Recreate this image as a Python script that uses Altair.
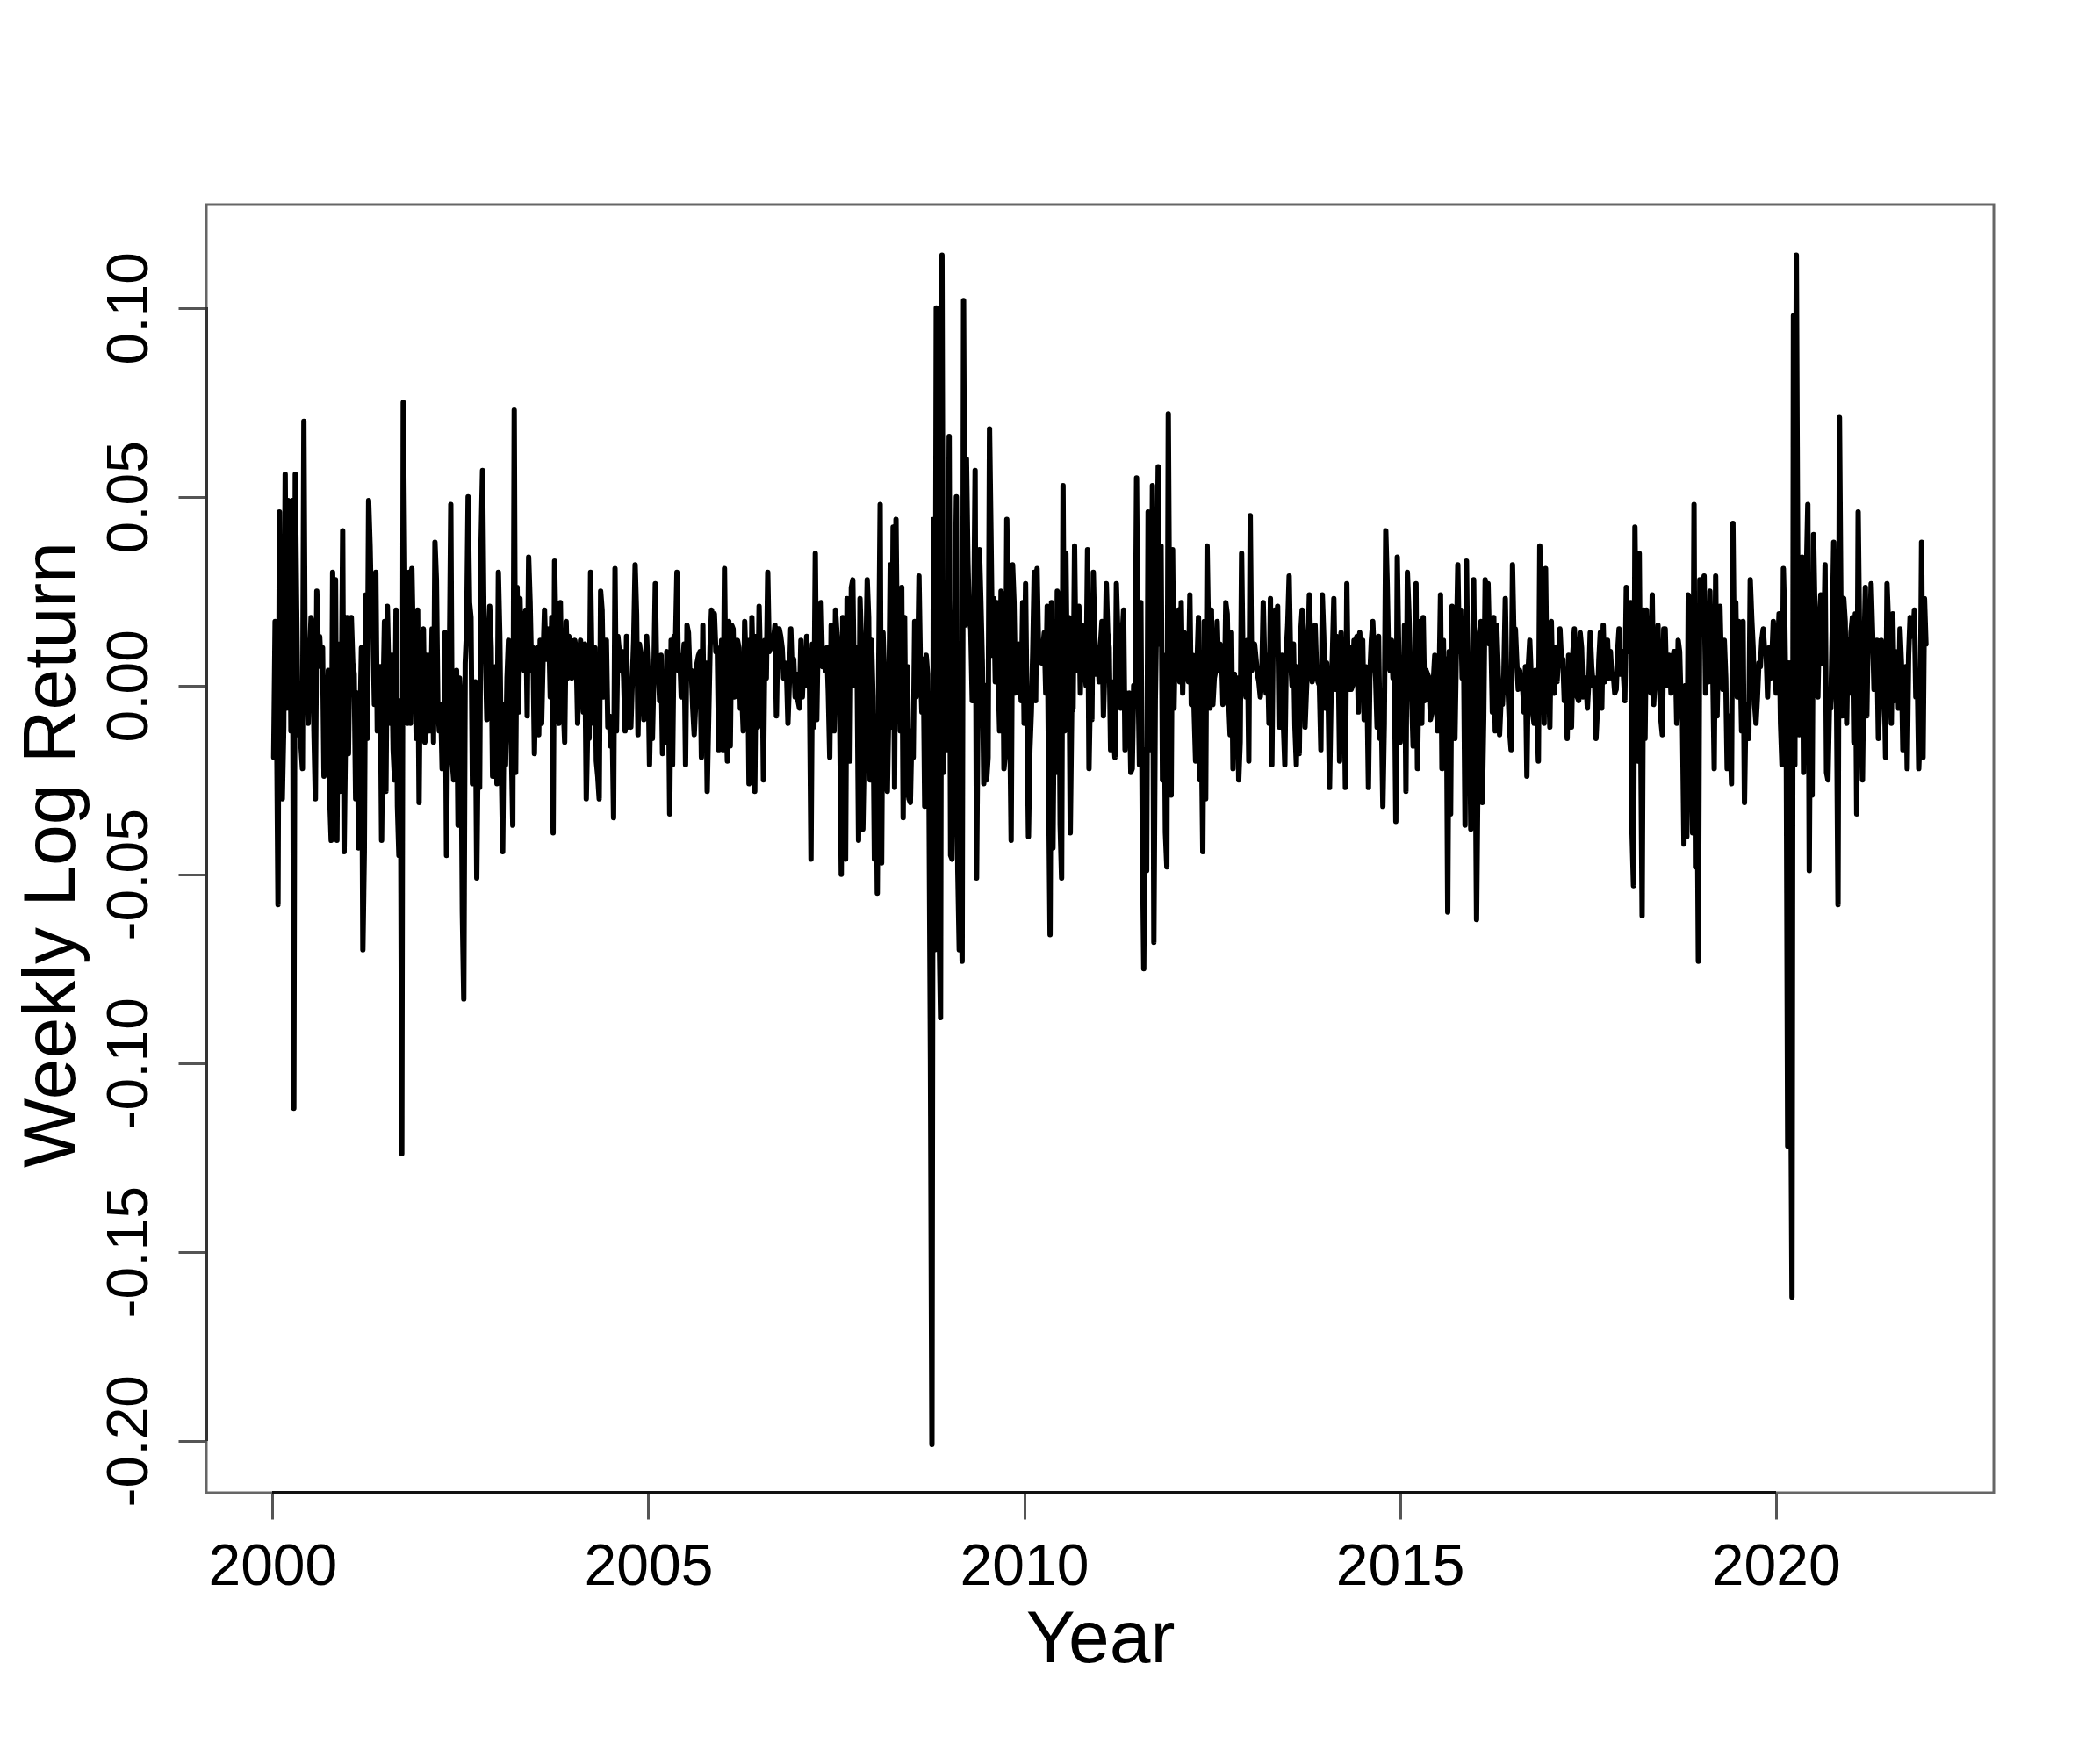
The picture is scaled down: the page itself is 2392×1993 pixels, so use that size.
import altair as alt
import pandas as pd

# Weekly log returns, one list per calendar year (weeks ending on Fridays)
r2000 = [-0.019, 0.017, -0.007, -0.058, 0.046, -0.021, -0.030, -0.011, 0.056, -0.006, 0.049, 0.038, -0.012, 0.049, -0.112, 0.056, 0.020, -0.013, -0.004, -0.016, -0.022, 0.070, -0.005, 0.004, -0.010, 0.008, 0.018, 0.016, -0.012, -0.030, 0.025, 0.010, 0.013, 0.005, 0.010, -0.024, -0.013, -0.009, 0.004, -0.030, -0.041, 0.030, 0.004, 0.028, -0.041, 0.011, -0.028, -0.009, 0.041, -0.044, -0.012, 0.018]
r2001 = [-0.018, 0.011, 0.018, 0.006, 0.003, -0.030, -0.002, -0.043, -0.012, 0.010, -0.070, -0.044, 0.024, -0.014, 0.049, 0.037, 0.018, 0.015, -0.005, 0.030, -0.012, -0.003, 0.005, -0.041, -0.004, 0.017, -0.028, 0.021, 0.002, -0.010, 0.008, -0.017, -0.025, 0.020, -0.032, -0.045, -0.004, -0.124, 0.075, 0.030, 0.021, -0.010, 0.030, -0.010, 0.031, 0.010, 0.010, -0.014, 0.020, -0.031, 0.014, 0.012]
r2002 = [0.015, -0.015, -0.012, 0.008, -0.012, -0.012, 0.015, -0.015, 0.038, 0.028, -0.005, -0.012, -0.005, -0.022, -0.018, 0.014, -0.045, 0.003, 0.005, 0.048, -0.020, -0.025, -0.020, 0.004, -0.037, 0.002, -0.005, -0.060, -0.083, 0.006, 0.015, 0.050, 0.022, 0.018, -0.026, -0.020, 0.001, -0.051, -0.014, -0.027, 0.038, 0.057, 0.017, 0.009, -0.009, 0.012, 0.021, 0.010, -0.024, -0.024, 0.005, -0.026]
r2003 = [0.030, 0.013, -0.020, -0.044, -0.005, -0.021, 0.002, 0.012, -0.003, -0.016, -0.037, 0.073, -0.023, 0.026, -0.007, 0.023, 0.007, 0.019, 0.004, 0.020, -0.008, 0.034, 0.022, 0.004, 0.010, -0.018, 0.004, 0.010, -0.013, 0.012, -0.010, 0.007, 0.020, 0.007, 0.012, 0.015, -0.003, 0.018, -0.039, 0.033, 0.010, -0.002, -0.010, 0.022, -0.002, -0.005, -0.015, 0.017, 0.002, 0.013, 0.012, 0.002]
r2004 = [0.004, 0.012, 0.009, -0.010, 0.005, 0.012, 0.003, -0.007, 0.011, -0.030, -0.011, -0.014, 0.030, 0.004, -0.010, 0.010, -0.020, -0.024, -0.030, 0.025, 0.020, -0.003, 0.004, 0.012, -0.011, -0.008, -0.016, -0.009, -0.035, 0.031, -0.012, 0.013, 0.009, 0.004, 0.009, 0.002, -0.012, 0.013, -0.011, -0.010, -0.011, 0.001, 0.012, 0.032, 0.019, -0.013, 0.011, 0.008, 0.002, -0.009, 0.006, 0.013, 0.004]
r2005 = [-0.021, 0.000, -0.014, 0.003, 0.027, 0.003, 0.005, -0.004, 0.008, -0.018, -0.009, -0.015, 0.009, 0.007, -0.034, 0.012, -0.021, 0.013, 0.011, 0.030, 0.004, 0.008, -0.003, 0.005, 0.011, -0.021, 0.016, 0.014, 0.003, 0.004, -0.006, -0.013, -0.005, 0.006, 0.008, 0.009, -0.019, 0.016, -0.017, 0.006, -0.028, -0.009, 0.010, 0.020, 0.018, 0.019, 0.009, 0.010, -0.017, -0.008, 0.012, -0.017]
r2006 = [0.031, -0.003, -0.020, 0.017, -0.016, 0.016, 0.015, -0.003, 0.000, 0.012, 0.010, -0.006, -0.002, -0.012, 0.017, 0.005, 0.012, -0.026, -0.019, 0.018, 0.002, -0.028, 0.013, -0.011, 0.021, 0.004, 0.010, -0.025, 0.012, 0.002, 0.030, 0.009, 0.010, 0.010, 0.012, 0.016, -0.008, 0.015, 0.015, 0.013, 0.010, 0.002, 0.006, 0.004, -0.010, 0.001, 0.015, 0.003, 0.007, -0.003, 0.003, -0.004]
r2007 = [-0.006, 0.012, -0.003, 0.007, 0.000, 0.013, 0.003, -0.001, -0.046, 0.011, -0.011, 0.035, -0.009, 0.015, 0.020, 0.022, 0.005, 0.006, 0.004, 0.010, -0.002, -0.019, 0.016, -0.006, -0.012, 0.020, 0.014, 0.010, -0.012, -0.050, 0.018, 0.014, -0.046, 0.023, 0.005, -0.020, 0.026, 0.028, 0.000, 0.010, 0.004, -0.041, 0.023, 0.011, -0.038, -0.016, 0.004, 0.028, 0.018, -0.025, 0.012, -0.003]
r2008 = [-0.046, -0.008, -0.055, 0.005, 0.048, -0.047, 0.014, 0.002, -0.017, -0.028, -0.006, 0.032, -0.011, 0.042, -0.027, 0.044, 0.005, 0.012, -0.012, 0.026, -0.035, 0.018, -0.029, 0.005, -0.030, -0.031, -0.012, -0.019, 0.017, -0.003, 0.002, 0.029, 0.005, -0.007, 0.007, -0.032, 0.008, 0.003, -0.030, -0.099, -0.201, 0.044, -0.070, 0.100, -0.040, -0.064, -0.088, 0.114, -0.023, 0.004, 0.009, -0.017]
r2009 = [0.066, -0.045, -0.046, -0.021, 0.017, 0.050, -0.049, -0.070, -0.045, -0.073, 0.102, 0.016, 0.060, 0.033, 0.017, 0.015, -0.004, 0.013, 0.057, -0.051, -0.005, 0.036, 0.022, 0.006, -0.026, 0.000, -0.025, -0.019, 0.068, 0.040, 0.008, 0.023, 0.001, 0.022, 0.003, -0.012, 0.025, 0.022, -0.022, -0.018, 0.044, 0.015, -0.007, -0.041, 0.032, 0.022, -0.002, 0.000, 0.011, 0.000, -0.004, 0.022]
r2010 = [-0.010, 0.027, -0.008, -0.040, -0.017, -0.007, 0.009, 0.030, -0.004, 0.031, 0.010, 0.009, 0.006, 0.010, 0.014, -0.002, 0.021, -0.025, -0.066, 0.022, -0.043, 0.002, -0.023, 0.025, 0.023, -0.037, -0.051, 0.053, -0.012, 0.035, -0.001, 0.018, -0.039, -0.007, -0.006, 0.037, 0.004, 0.014, 0.021, -0.002, 0.016, 0.009, 0.006, 0.000, 0.036, -0.022, 0.000, -0.009, 0.030, 0.013, 0.003, 0.010, 0.001]
r2011 = [0.011, 0.017, -0.008, 0.005, 0.027, 0.014, 0.010, -0.017, 0.001, -0.013, -0.019, 0.027, 0.014, -0.003, -0.006, 0.013, 0.020, -0.017, -0.002, -0.003, -0.002, -0.023, -0.022, 0.000, -0.002, 0.055, 0.003, -0.021, 0.022, -0.040, -0.075, -0.017, -0.049, 0.046, -0.002, -0.017, 0.053, -0.068, -0.004, 0.021, 0.058, 0.011, 0.037, -0.025, 0.008, -0.039, -0.048, 0.072, 0.009, -0.029, 0.036, -0.006]
r2012 = [0.016, 0.009, 0.020, 0.001, 0.022, -0.002, 0.014, 0.003, 0.003, 0.001, 0.024, -0.005, 0.008, -0.007, -0.020, 0.006, 0.018, -0.025, -0.012, -0.044, 0.017, -0.030, 0.037, 0.013, -0.006, 0.020, -0.005, 0.002, 0.004, 0.017, 0.004, 0.011, 0.009, -0.005, -0.003, 0.022, 0.019, -0.004, -0.013, 0.014, -0.022, 0.003, -0.015, 0.002, -0.025, -0.015, 0.035, 0.005, 0.001, -0.003, 0.012, -0.020]
r2013 = [0.045, 0.004, 0.009, 0.011, 0.007, 0.003, 0.001, -0.003, 0.002, 0.022, 0.006, -0.002, 0.008, -0.010, 0.023, -0.021, 0.017, 0.020, 0.012, 0.021, -0.011, -0.011, 0.008, -0.010, -0.021, 0.009, 0.016, 0.029, 0.007, 0.000, 0.011, -0.011, -0.021, 0.005, -0.018, 0.014, 0.020, 0.013, -0.011, -0.001, 0.008, 0.024, 0.009, 0.001, 0.005, 0.016, 0.004, 0.001, 0.000, -0.017, 0.024, 0.013]
r2014 = [-0.006, 0.006, -0.002, -0.027, -0.004, 0.008, 0.023, -0.001, 0.013, 0.010, -0.020, 0.014, -0.005, 0.004, -0.027, 0.027, -0.001, 0.010, -0.001, 0.000, 0.012, 0.012, 0.013, -0.007, 0.014, -0.001, 0.012, -0.009, 0.005, 0.000, -0.027, 0.003, 0.012, 0.017, 0.008, 0.002, -0.011, 0.013, -0.014, -0.008, -0.032, -0.010, 0.041, 0.027, 0.007, 0.004, 0.012, 0.002, 0.004, -0.036, 0.034, 0.009]
r2015 = [-0.015, -0.007, -0.012, 0.016, -0.028, 0.030, 0.020, 0.006, -0.003, -0.016, -0.009, 0.027, -0.022, 0.003, 0.017, -0.010, 0.018, -0.004, 0.004, 0.003, 0.002, -0.009, -0.007, 0.001, 0.008, -0.004, -0.012, 0.000, 0.024, -0.022, 0.012, -0.013, 0.007, -0.060, 0.009, -0.034, 0.021, -0.002, -0.014, 0.010, 0.032, 0.009, 0.020, 0.002, 0.010, -0.037, 0.033, 0.000, 0.001, -0.038, -0.003, 0.028]
r2016 = [-0.008, -0.062, -0.022, 0.014, 0.017, -0.031, -0.008, 0.028, 0.016, 0.027, 0.011, 0.013, -0.007, 0.018, -0.012, 0.016, 0.005, -0.013, -0.004, -0.005, 0.003, 0.023, 0.000, -0.002, -0.012, -0.017, 0.032, 0.013, 0.015, 0.006, -0.001, 0.004, 0.000, 0.000, -0.007, 0.005, -0.024, 0.005, 0.012, 0.002, -0.007, -0.010, 0.004, -0.007, -0.020, 0.037, 0.008, 0.014, -0.010, 0.031, -0.001, 0.003, -0.011]
r2017 = [0.017, -0.001, -0.002, 0.010, 0.001, 0.008, 0.015, 0.007, 0.007, -0.004, 0.002, -0.014, 0.008, -0.003, -0.011, 0.009, 0.015, 0.006, -0.003, -0.004, 0.014, 0.010, -0.003, 0.001, 0.002, -0.006, 0.001, 0.014, 0.005, 0.000, 0.002, -0.014, -0.006, 0.007, 0.014, -0.006, 0.016, 0.001, 0.007, 0.012, 0.002, 0.009, 0.002, 0.003, -0.002, -0.001, 0.009, 0.015, 0.003, 0.009, 0.003, -0.004]
r2018 = [0.026, 0.016, 0.009, 0.022, -0.039, -0.053, 0.042, 0.006, -0.020, 0.035, -0.012, -0.061, 0.020, -0.014, 0.020, 0.005, 0.000, -0.002, 0.024, -0.005, 0.003, 0.005, 0.016, 0.000, -0.009, -0.013, 0.015, 0.015, 0.000, 0.006, 0.008, -0.002, 0.006, 0.009, 0.009, -0.010, 0.012, 0.009, -0.005, -0.010, -0.042, 0.000, -0.040, 0.024, 0.021, -0.016, -0.039, 0.048, -0.048, -0.013, -0.073, 0.028]
r2019 = [0.019, 0.025, 0.029, -0.002, 0.016, 0.001, 0.025, 0.006, 0.004, -0.022, 0.029, -0.008, 0.012, 0.021, 0.005, -0.001, 0.012, 0.002, -0.022, -0.008, -0.012, -0.026, 0.043, 0.005, 0.022, -0.003, 0.017, 0.008, -0.012, 0.017, -0.031, -0.005, -0.010, -0.014, 0.028, 0.018, 0.010, -0.005, -0.010, -0.003, 0.006, 0.005, 0.012, 0.015, 0.009, 0.009, -0.003, 0.010, 0.002, 0.007, 0.017, 0.006]
r2020 = [-0.002, 0.009, 0.019, -0.010, -0.021, 0.031, 0.016, -0.013, -0.122, 0.006, -0.092, -0.162, 0.098, -0.021, 0.114, 0.030, -0.013, -0.002, 0.034, -0.023, 0.031, 0.030, 0.048, -0.049, 0.019, -0.029, 0.040, 0.018, 0.013, -0.003, 0.017, 0.024, 0.006, 0.007, 0.032, -0.023, -0.025, -0.006, -0.006, 0.015, 0.038, 0.002, -0.005, -0.058, 0.071, 0.022, -0.008, 0.023, 0.017, -0.010, 0.012, -0.002]
r2021 = [0.014, 0.018, -0.015, 0.019, -0.034, 0.046, 0.012, -0.007, -0.025, 0.008, 0.026, -0.008, 0.016, 0.011, 0.027, 0.014, -0.001, 0.000, 0.012, -0.014, -0.004, 0.012, 0.006, 0.004, -0.019, 0.027, 0.017, 0.004, -0.010, 0.019, -0.004, 0.009, 0.007, -0.006, 0.015, 0.006, -0.017, -0.006, 0.005, -0.022, 0.008, 0.018, 0.016, 0.013, 0.020, -0.003, 0.003, -0.022, -0.012, 0.038, -0.019, 0.023, 0.011]

YEARS = list(range(2000, 2022))
SERIES = [r2000, r2001, r2002, r2003, r2004, r2005, r2006, r2007, r2008, r2009, r2010,
          r2011, r2012, r2013, r2014, r2015, r2016, r2017, r2018, r2019, r2020, r2021]

X_TICKS = [2000, 2005, 2010, 2015, 2020]
Y_TICKS = [-0.20, -0.15, -0.10, -0.05, 0.00, 0.05, 0.10]
X_DOMAIN = [1999.12, 2022.9]
Y_DOMAIN = [-0.2138, 0.1274]

rows = []
for yr, vals in zip(YEARS, SERIES):
    jan1 = pd.Timestamp(yr, 1, 1)
    first_fri = jan1 + pd.Timedelta(days=(4 - jan1.weekday()) % 7)
    dates = pd.date_range(first_fri, periods=len(vals), freq="7D")
    for d, v in zip(dates, vals):
        ndays = 366 if d.is_leap_year else 365
        rows.append({"t": d.year + (d.dayofyear - 1) / ndays, "r": v})
df = pd.DataFrame(rows)

FONT = "Liberation Sans"
W, H = 2036, 1467

x_enc = alt.X(
    "t:Q",
    scale=alt.Scale(domain=X_DOMAIN, nice=False, zero=False),
    axis=alt.Axis(
        values=X_TICKS, format="d", domain=False, grid=False,
        labelFont=FONT, labelFontSize=66, labelColor="black",
        labelBaseline="top", labelPadding=22, labelFlush=False, labelOverlap=False,
        tickColor="#555555", tickWidth=3, tickSize=30,
        title="Year", titleFont=FONT, titleFontSize=84, titleFontWeight="normal",
        titleColor="black", titleX=W / 2, titleY=192, titleBaseline="alphabetic",
        titleAlign="center",
    ),
)
y_enc = alt.Y(
    "r:Q",
    scale=alt.Scale(domain=Y_DOMAIN, nice=False, zero=False),
    axis=alt.Axis(
        values=Y_TICKS, format=".2f", domain=False, grid=False,
        labelExpr="replace(datum.label, '\u2212', '-')",
        labelFont=FONT, labelFontSize=66, labelColor="black",
        labelAngle=270, labelAlign="center", labelBaseline="alphabetic",
        labelPadding=36, labelFlush=False, labelOverlap=False,
        tickColor="#555555", tickWidth=3, tickSize=32,
        title="Weekly Log Return", titleFont=FONT, titleFontSize=84,
        titleFontWeight="normal", titleColor="black", titleAngle=270,
        titleX=-151, titleY=740, titleBaseline="alphabetic", titleAlign="center",
    ),
)

line = alt.Chart(df).mark_line(
    color="black", strokeWidth=6, strokeJoin="round", strokeCap="round"
).encode(x=x_enc, y=y_enc)

xaxis_line = alt.Chart(df).mark_rule(color="#111111", strokeWidth=4).encode(
    x=alt.datum(X_TICKS[0]), x2=alt.datum(X_TICKS[-1]), y=alt.datum(Y_DOMAIN[0])
)
yaxis_line = alt.Chart(df).mark_rule(color="#333333", strokeWidth=4).encode(
    y=alt.datum(Y_TICKS[0]), y2=alt.datum(Y_TICKS[-1]), x=alt.datum(X_DOMAIN[0])
)

chart = (
    alt.layer(line, xaxis_line, yaxis_line)
    .properties(
        width=W, height=H,
        autosize=alt.AutoSizeParams(type="none"),
        padding={"left": 227, "top": 225, "right": 100, "bottom": 260},
        background="white",
    )
    .configure_view(stroke="#666666", strokeWidth=3)
)

chart.save("out.html", embed_options={"renderer": "svg", "actions": False})
